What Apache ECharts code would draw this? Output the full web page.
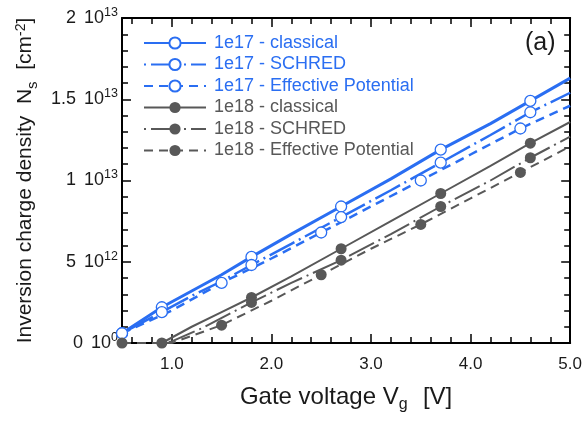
<!DOCTYPE html>
<html>
<head>
<meta charset="utf-8">
<script src="https://cdn.jsdelivr.net/npm/echarts@6/dist/echarts.min.js"></script>
<style>html,body{margin:0;padding:0;background:#fff}#c{width:585px;height:421px}</style>
</head>
<body>
<div id="c"></div>
<script>
// ---- data (Ns in units of 1e12 cm^-2, Vg in V) ----
const seriesNames = [
  '1e17 - classical', '1e17 - SCHRED', '1e17 - Effective Potential',
  '1e18 - classical', '1e18 - SCHRED', '1e18 - Effective Potential'
];
const blue17Classical = [[0.5,0.6],[0.9,2.2],[1.2,3.2],[1.5,4.2],[1.8,5.3],[2.2,6.7],[2.7,8.4],[3.2,10.1],[3.7,11.9],[4.2,13.5],[4.6,14.9],[5.0,16.3]];
const blue17Schred    = [[0.5,0.6],[0.9,1.9],[1.2,2.9],[1.5,3.8],[1.8,4.8],[2.2,6.1],[2.7,7.75],[3.2,9.4],[3.7,11.1],[4.2,12.8],[4.6,14.2],[5.0,15.4]];
const blue17EP        = [[0.5,0.6],[1.0,2.0],[1.5,3.7],[2.0,5.2],[2.5,6.8],[3.0,8.4],[3.5,10.0],[4.0,11.6],[4.5,13.2],[5.0,14.6]];
const gray18Classical = [[0.9,0.0],[1.2,1.0],[1.5,1.9],[1.8,2.8],[2.2,4.1],[2.7,5.8],[3.2,7.5],[3.7,9.2],[4.2,10.9],[4.6,12.3],[5.0,13.6]];
const gray18Schred    = [[0.9,0.0],[1.0,0.1],[1.3,0.9],[1.8,2.5],[2.2,3.7],[2.7,5.1],[3.2,6.7],[3.7,8.4],[4.2,10.0],[4.6,11.4],[5.0,12.7]];
const gray18EP        = [[0.5,0.0],[1.0,0.0],[1.5,1.1],[2.0,2.6],[2.5,4.2],[3.0,5.8],[3.5,7.3],[4.0,8.9],[4.5,10.5],[5.0,12.1]];
// x positions that carry a marker
const marks17Classical = [0.5,0.9,1.8,2.7,3.7,4.6];
const marks17Schred    = [0.9,1.8,2.7,3.7,4.6];
const marks17EP        = [0.5,1.5,2.5,3.5,4.5];
const marks18Classical = [0.9,1.8,2.7,3.7,4.6];
const marks18Schred    = [1.8,2.7,3.7,4.6];
const marks18EP        = [0.5,1.5,2.5,3.5,4.5];

const xTickLabels = [1.0, 2.0, 3.0, 4.0, 5.0];
const xMinorTicks = [0.6,0.8,1.2,1.4,1.6,1.8,2.2,2.4,2.6,2.8,3.2,3.4,3.6,3.8,4.2,4.4,4.6,4.8];
const yTickValues = [0, 5, 10, 15, 20];
const yTickMant   = ['0', '5', '1', '1.5', '2'];
const yTickExp    = ['0', '12', '13', '13', '13'];

// ---- styling ----
const BLUE = '#2a6ef2';
const GRAY = '#585858';
const FONT = 'Liberation Sans, Arial, sans-serif';

function build(points, marks) {
  return points.map(p => ({ value: p, symbol: marks.indexOf(p[0]) >= 0 ? 'circle' : 'none' }));
}
function mkSeries(name, pts, marks, color, hollow, lineType, width, dashOffset) {
  return {
    name, type: 'line', data: build(pts, marks),
    symbol: 'circle', symbolSize: 11, showSymbol: true, showAllSymbol: true,
    lineStyle: { color, width, type: lineType, dashOffset: dashOffset || 0 },
    itemStyle: hollow ? { color: '#fff', borderColor: color, borderWidth: 1.3 } : { color, borderColor: color, borderWidth: 0 },
    emphasis: { disabled: true }, animation: false, z: 2
  };
}
const schredDash = [28, 5, 2, 5];
const epDash = [9, 6];

const axisLineStyle = { show: true, lineStyle: { color: '#000', width: 2 } };
const baseX = { type: 'value', min: 0.5, max: 5, splitLine: { show: false }, gridIndex: 0 };
const baseY = { type: 'value', min: 0, max: 20, interval: 5, splitLine: { show: false } };

const option = {
  animation: false,
  textStyle: { fontFamily: FONT },
  grid: { left: 122, right: 13, top: 18, bottom: 78 },
  xAxis: [
    Object.assign({}, baseX, {
      position: 'bottom', axisLine: axisLineStyle,
      axisTick: { inside: true, length: 9, customValues: xTickLabels, lineStyle: { color: '#000', width: 1.5 } },
      axisLabel: { customValues: xTickLabels, formatter: v => v.toFixed(1), fontSize: 17, color: '#1a1a1a', margin: 13, fontFamily: FONT },
      name: 'Gate voltage V{sub|g}  [V]', nameLocation: 'middle', nameGap: 39,
      nameTextStyle: { fontSize: 24, color: '#1a1a1a', fontFamily: FONT,
        rich: { sub: { fontSize: 16, color: '#1a1a1a', padding: [15, 2, 0, 0], fontFamily: FONT } } }
    }),
    Object.assign({}, baseX, {
      position: 'bottom', axisLine: { show: false },
      axisTick: { inside: true, length: 6, customValues: xMinorTicks, lineStyle: { color: '#000', width: 1.5 } },
      axisLabel: { show: false }
    }),
    Object.assign({}, baseX, {
      position: 'top', axisLine: axisLineStyle,
      axisTick: { inside: true, length: 9, customValues: xTickLabels, lineStyle: { color: '#000', width: 1.5 } },
      axisLabel: { show: false }
    }),
    Object.assign({}, baseX, {
      position: 'top', axisLine: { show: false },
      axisTick: { inside: true, length: 6, customValues: xMinorTicks, lineStyle: { color: '#000', width: 1.5 } },
      axisLabel: { show: false }
    })
  ],
  yAxis: [
    Object.assign({}, baseY, {
      position: 'left', axisLine: axisLineStyle,
      axisTick: { inside: true, length: 9, lineStyle: { color: '#000', width: 1.5 } },
      minorTick: { show: true, splitNumber: 5, length: 6, lineStyle: { color: '#000', width: 1.5 } },
      axisLabel: {
        margin: 4, color: '#1a1a1a', fontFamily: FONT,
        formatter: v => { const i = yTickValues.indexOf(v); return i < 0 ? '' : '{m|' + yTickMant[i] + '}{b| 10}{sup|' + yTickExp[i] + '}'; },
        rich: { m: { fontSize: 18, color: '#1a1a1a', fontFamily: FONT, padding: [0, 3, 0, 0] },
                b: { fontSize: 18, color: '#1a1a1a', fontFamily: FONT },
                sup: { fontSize: 12.5, color: '#1a1a1a', padding: [0, 0, 11, 0], fontFamily: FONT } }
      },
      name: 'Inversion charge density  N{sub|s}  [cm{sup|-2}]', nameLocation: 'middle', nameGap: 81,
      nameTextStyle: { fontSize: 21, color: '#1a1a1a', fontFamily: FONT,
        rich: { sub: { fontSize: 15, color: '#1a1a1a', padding: [14, 0, 0, 0], fontFamily: FONT },
                sup: { fontSize: 14, color: '#1a1a1a', padding: [0, 0, 10, 0], fontFamily: FONT } } }
    }),
    Object.assign({}, baseY, {
      position: 'right', axisLine: axisLineStyle,
      axisTick: { inside: true, length: 9, lineStyle: { color: '#000', width: 1.5 } },
      minorTick: { show: true, splitNumber: 5, length: 6, lineStyle: { color: '#000', width: 1.5 } },
      axisLabel: { show: false }
    })
  ],
  legend: {
    orient: 'vertical', left: 143, top: 33, padding: 0, itemWidth: 62, itemHeight: 14, itemGap: 1.5,
    selectedMode: false,
    textStyle: { fontSize: 18, lineHeight: 20, fontFamily: FONT, padding: [0, 0, 0, 3] },
    data: seriesNames.map((n, i) => ({ name: n, textStyle: { color: i < 3 ? BLUE : GRAY } }))
  },
  graphic: [{ type: 'text', left: 525, top: 31, style: { text: '(a)', fontSize: 25, fill: '#1a1a1a', fontFamily: FONT } }],
  series: [
    mkSeries(seriesNames[0], blue17Classical, marks17Classical, BLUE, true, 'solid', 3),
    mkSeries(seriesNames[1], blue17Schred, marks17Schred, BLUE, true, schredDash, 2.5, 33),
    mkSeries(seriesNames[2], blue17EP, marks17EP, BLUE, true, epDash, 2.5),
    mkSeries(seriesNames[3], gray18Classical, marks18Classical, GRAY, false, 'solid', 2),
    mkSeries(seriesNames[4], gray18Schred, marks18Schred, GRAY, false, schredDash, 2, 33),
    mkSeries(seriesNames[5], gray18EP, marks18EP, GRAY, false, epDash, 2)
  ]
};
const chart = echarts.init(document.getElementById('c'), null, { renderer: 'canvas' });
chart.setOption(option);
</script>
</body>
</html>
